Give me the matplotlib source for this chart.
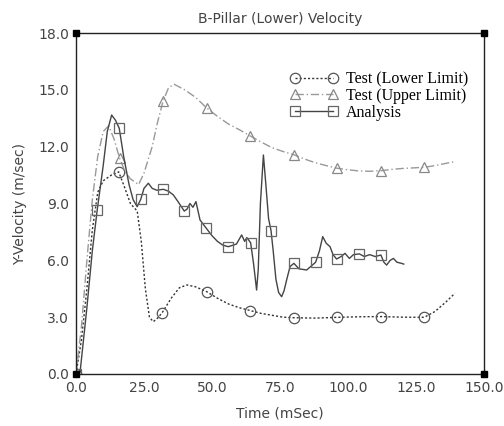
import matplotlib
matplotlib.use('Agg')
import matplotlib.pyplot as plt

# Test (Lower Limit)
lower_t = [0, 2, 4, 6, 8, 10, 13, 15.7, 18, 20, 22.5, 24, 25.5, 27, 28.4, 30, 31.7,
           35, 38, 40.7, 44, 48, 52, 56, 60, 64, 68, 72, 76, 80, 88, 96, 104, 112,
           120, 128, 132, 136, 139.3]
lower_v = [0, 1.8, 4.5, 7.6, 9.6, 10.2, 10.5, 10.67, 9.8, 9.0, 8.6, 7.0, 4.5, 3.0, 2.76,
           2.95, 3.24, 4.0, 4.55, 4.7, 4.6, 4.35, 4.0, 3.7, 3.5, 3.35, 3.2, 3.1, 3.0,
           2.97, 2.95, 2.99, 3.02, 3.03, 3.0, 2.99, 3.3, 3.8, 4.26]
lower_marks = [0, 15.7, 31.7, 48, 64, 80, 96, 112, 128]

# Test (Upper Limit)
upper_t = [0, 2, 4, 6, 8, 10, 12, 14, 16, 18, 20, 23, 25, 28, 30, 32, 34, 36, 40, 44,
           48, 52, 56, 60, 64, 68, 72, 76, 80, 84, 88, 92, 96, 100, 104, 108, 112,
           116, 120, 124, 128, 132, 136, 139.3]
upper_v = [0, 2.5, 6.0, 9.2, 11.5, 12.8, 13.1, 12.4, 11.4, 10.7, 10.3, 10.0, 10.6, 12.0,
           13.3, 14.4, 15.1, 15.3, 15.0, 14.6, 14.05, 13.6, 13.2, 12.9, 12.57, 12.25,
           11.95, 11.75, 11.58, 11.35, 11.15, 11.0, 10.86, 10.78, 10.72, 10.7, 10.73,
           10.8, 10.85, 10.88, 10.91, 11.0, 11.12, 11.21]
upper_marks = [0, 16, 32, 48, 64, 80, 96, 112, 128]

# Analysis
analysis_t = [0, 1.5, 4, 6, 7.8, 10, 11.5, 13.1, 14.5, 15.9, 17.5, 19.5, 21, 22.5, 23.8,
              25, 26.6, 28, 29.7, 32.1, 34, 35.8, 37.5, 39.8, 40.8, 41.9, 43, 44.1, 45.6,
              47.7, 50, 52, 54, 56, 59, 60.9, 62, 62.8, 64.2, 65.3, 66.4, 67, 67.8, 68.9,
              69.8, 70.8, 71.7, 72.5, 73.5, 74.5, 75.6, 76.5, 77.5, 78.7, 80.1, 82, 84.8,
              86.5, 88.1, 89.5, 90.7, 92, 93.4, 94.5, 95.8, 97.5, 98.9, 100.5, 102, 104.2,
              106, 108, 110, 112.1, 113.2, 114.2, 115.5, 116.7, 118, 119.7, 120.5]
analysis_v = [0, 0.1, 3.5, 6.5, 8.66, 11.0, 12.8, 13.67, 13.4, 12.97, 11.5, 10.0, 9.2, 8.83,
              9.22, 9.8, 10.07, 9.8, 9.7, 9.75, 9.65, 9.45, 9.1, 8.6, 8.7, 9.0, 8.8, 9.1,
              8.13, 7.73, 7.3, 7.0, 6.8, 6.72, 6.86, 7.34, 7.0, 7.2, 6.93, 5.8, 4.43, 5.5,
              9.0, 11.56, 10.0, 8.2, 7.57, 6.5, 5.0, 4.3, 4.08, 4.4, 5.0, 5.67, 5.84, 5.55,
              5.49, 5.7, 5.9, 6.5, 7.25, 6.9, 6.72, 6.3, 6.07, 6.2, 6.37, 6.1, 6.3, 6.34,
              6.2, 6.3, 6.2, 6.28, 5.9, 5.75, 6.0, 6.1, 5.9, 5.84, 5.8]
analysis_marks = [0, 7.8, 15.9, 23.8, 32.1, 39.8, 47.7, 56, 64.2, 71.7, 80.1, 88.1, 95.8,
                  104.2, 112.1]

x_ticks = [0, 25, 50, 75, 100, 125, 150]
y_ticks = [0, 3, 6, 9, 12, 15, 18]


def mark_idx(ts, marks):
    return [i for i, t in enumerate(ts) if t in marks]


fig = plt.figure(figsize=(5.04, 4.26), dpi=100)
ax = fig.add_axes([0.1508, 0.1221, 0.8095, 0.8004])

ax.plot(lower_t, lower_v, color='#333333', lw=1.0, ls=(0, (1.5, 1.5)),
        marker='o', ms=7.5, mfc='none', mec='#555555', mew=0.9,
        markevery=mark_idx(lower_t, lower_marks), label='Test (Lower Limit)')
ax.plot(upper_t, upper_v, color='#999999', lw=1.0, ls=(0, (6, 2, 1, 2)),
        marker='^', ms=7.5, mfc='none', mec='#888888', mew=0.9,
        markevery=mark_idx(upper_t, upper_marks), label='Test (Upper Limit)')
ax.plot(analysis_t, analysis_v, color='#444444', lw=1.0, ls='-',
        marker='s', ms=6.5, mfc='none', mec='#666666', mew=0.9,
        markevery=mark_idx(analysis_t, analysis_marks), label='Analysis')

ax.set_xlim(0, 150)
ax.set_ylim(0, 18)
ax.set_xticks(x_ticks)
ax.set_yticks(y_ticks)
ax.set_xticklabels(['%.1f' % v for v in x_ticks])
ax.set_yticklabels(['%.1f' % v for v in y_ticks])
ax.tick_params(length=0, pad=5, labelsize=10, colors='#444444')
for s in ax.spines.values():
    s.set_color('#222222')
    s.set_linewidth(1.0)

# corner squares
ax.plot([0, 150, 0, 150], [0, 0, 18, 18], ls='none', marker='s', ms=5,
        color='black', clip_on=False, zorder=5)

ax.set_title('B-Pillar (Lower) Velocity', fontsize=10, color='#444444', pad=7)
ax.set_xlabel('Time (mSec)', fontsize=10, color='#444444', labelpad=8)
ax.set_ylabel('Y-Velocity (m/sec)', fontsize=10, color='#444444', labelpad=8)

ax.legend(loc='upper left', bbox_to_anchor=(0.49, 0.93), frameon=False,
          numpoints=2, handlelength=3.0, handletextpad=0.5, labelspacing=0.05,
          prop={'family': 'Liberation Serif', 'size': 11.5})

fig.savefig('out.png', dpi=100)
